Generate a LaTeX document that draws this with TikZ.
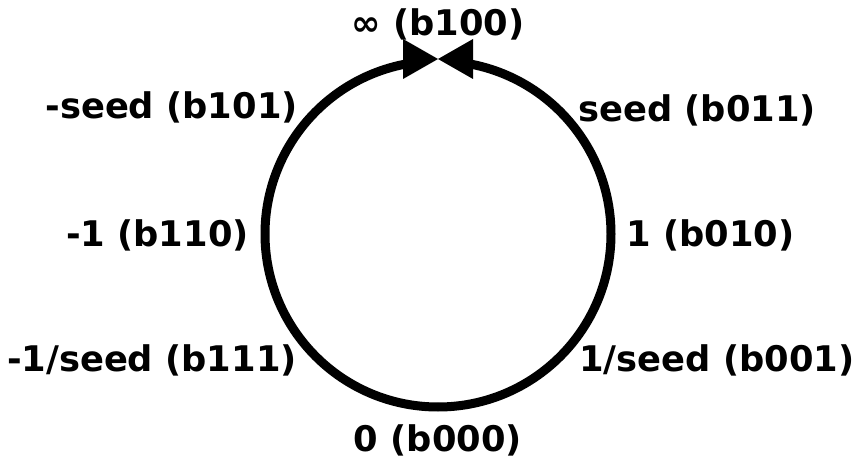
\documentclass[tikz,border=0pt]{standalone}
\usepackage{fontspec}
\setmainfont{DejaVu Sans}
\begin{document}
\begin{tikzpicture}[x=1pt,y=1pt,
  lbl/.style={font=\fontsize{35.3}{40}\selectfont\bfseries, inner sep=0pt},
  ring/.style={line width=9pt},
  head/.style={fill=black, draw=none}]
\useasboundingbox (0,0) rectangle (855,459);
\coordinate (top) at (438,400);
% two halves of the ring, both running up to the top
\draw[ring] (438,52) arc[start angle=270, end angle=96, radius=173];
\draw[ring] (438,52) arc[start angle=-90, end angle=84, radius=173];
% arrowheads meeting at the top
\fill[head] (top) -- ++(-35,20) -- ++(0,-40) -- cycle;
\fill[head] (top) -- ++(35,20) -- ++(0,-40) -- cycle;
% labels around the ring
\node[lbl] (inf)   at (438,435) {∞ (b100)};
\node[lbl, anchor=east] (mseed) at (298,352) {-seed (b101)};
\node[lbl, anchor=west] (pseed) at (578,349) {seed (b011)};
\node[lbl, anchor=east] (mone)  at (249,224) {-1 (b110)};
\node[lbl, anchor=west] (pone)  at (626,224) {1 (b010)};
\node[lbl, anchor=east] (minv)  at (297,99) {-1/seed (b111)};
\node[lbl, anchor=west] (pinv)  at (579,99) {1/seed (b001)};
\node[lbl] (zero)  at (438,19) {0 (b000)};
\end{tikzpicture}
\end{document}
